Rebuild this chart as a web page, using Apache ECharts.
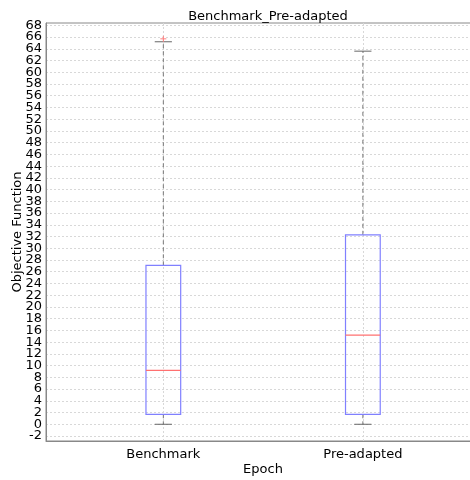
<!DOCTYPE html>
<html>
<head>
<meta charset="utf-8">
<script src="https://cdn.jsdelivr.net/npm/echarts@6/dist/echarts.min.js"></script>
<style>
  html, body { margin: 0; padding: 0; background: #fff; }
  #chart { width: 470px; height: 480px; }
</style>
</head>
<body>
<div id="chart"></div>
<script>
// Box plot summary per epoch
const categories = ['Benchmark', 'Pre-adapted'];
const whiskerLow = [0.0, 0.0];
const q1 = [1.7, 1.7];
const median = [9.2, 15.2];
const q3 = [27.1, 32.3];
const whiskerHigh = [65.2, 63.6];
const outliers = [[65.7], []];
const yTicks = [-2, 0, 2, 4, 6, 8, 10, 12, 14, 16, 18, 20, 22, 24, 26, 28, 30, 32, 34,
  36, 38, 40, 42, 44, 46, 48, 50, 52, 54, 56, 58, 60, 62, 64, 66, 68];
const yMin = -2.85;
const yMax = 68.4;

const FONT = 'DejaVu Sans';
const positions = categories.map((_, i) => i + 1);
const boxData = positions.map((p, i) => [p, whiskerLow[i], q1[i], median[i], q3[i], whiskerHigh[i]]);
const outlierData = [];
outliers.forEach((list, i) => list.forEach(v => outlierData.push([positions[i], v])));
// blank end labels so that the min/max label handling leaves the real ticks alone
const yLabelValues = [yMin].concat(yTicks, [yMax]);

const BOX_HALF = 0.087;
const CAP_HALF = 0.043;

function renderBox(params, api) {
  const x = api.value(0);
  const pt = (xv, yv) => api.coord([xv, yv]);
  const lo = pt(x, api.value(1)), b1 = pt(x, api.value(2)), md = api.value(3);
  const b3 = pt(x, api.value(4)), hi = pt(x, api.value(5));
  const left = pt(x - BOX_HALF, api.value(2))[0], right = pt(x + BOX_HALF, api.value(2))[0];
  const capL = pt(x - CAP_HALF, 0)[0], capR = pt(x + CAP_HALF, 0)[0];
  const mdY = pt(x, md)[1];
  const whiskerStyle = { stroke: '#777777', lineWidth: 1, lineDash: [4, 3] };
  const capStyle = { stroke: '#666666', lineWidth: 1 };
  return {
    type: 'group',
    children: [
      { type: 'line', shape: { x1: hi[0], y1: b3[1], x2: hi[0], y2: hi[1] }, style: whiskerStyle },
      { type: 'line', shape: { x1: lo[0], y1: b1[1], x2: lo[0], y2: lo[1] }, style: whiskerStyle },
      { type: 'line', shape: { x1: capL, y1: hi[1], x2: capR, y2: hi[1] }, style: capStyle },
      { type: 'line', shape: { x1: capL, y1: lo[1], x2: capR, y2: lo[1] }, style: capStyle },
      { type: 'rect', shape: { x: left, y: b3[1], width: right - left, height: b1[1] - b3[1] },
        style: { fill: 'none', stroke: '#8080ff', lineWidth: 1.2 } },
      { type: 'line', shape: { x1: left, y1: mdY, x2: right, y2: mdY },
        style: { stroke: '#ff7070', lineWidth: 1.2 } }
    ]
  };
}

function renderOutlier(params, api) {
  const c = api.coord([api.value(0), api.value(1)]);
  const s = 3;
  const st = { stroke: '#ff8080', lineWidth: 1 };
  return {
    type: 'group',
    children: [
      { type: 'line', shape: { x1: c[0] - s, y1: c[1], x2: c[0] + s, y2: c[1] }, style: st },
      { type: 'line', shape: { x1: c[0], y1: c[1] - s, x2: c[0], y2: c[1] + s }, style: st }
    ]
  };
}

const chart = echarts.init(document.getElementById('chart'), null, { renderer: 'canvas' });
chart.setOption({
  animation: false,
  backgroundColor: '#ffffff',
  title: {
    text: 'Benchmark_Pre-adapted',
    left: 263, top: 5, textAlign: 'center',
    textStyle: { fontFamily: FONT, fontSize: 13, fontWeight: 'normal', color: '#000' }
  },
  grid: {
    left: 46, top: 23, width: 434, height: 418,
    containLabel: false, outerBoundsMode: 'none',
    show: true, borderColor: '#888', borderWidth: 1
  },
  xAxis: {
    type: 'value', min: 0.412, max: 2.587,
    name: 'Epoch', nameLocation: 'middle', nameGap: 22, nameMoveOverlap: false,
    nameTextStyle: { fontFamily: FONT, fontSize: 13, color: '#000' },
    axisLine: { show: true, onZero: false, lineStyle: { color: '#888' } },
    axisTick: { show: false, customValues: positions },
    axisLabel: {
      customValues: positions, margin: 7,
      fontFamily: FONT, fontSize: 13, color: '#000',
      formatter: v => categories[Math.round(v) - 1] || ''
    },
    splitLine: { show: true, lineStyle: { color: '#d8d8d8', type: [2, 2] } }
  },
  yAxis: {
    type: 'value', min: yMin, max: yMax,
    name: 'Objective Function', nameLocation: 'middle', nameGap: 22, nameMoveOverlap: false,
    nameTextStyle: { fontFamily: FONT, fontSize: 13, color: '#000' },
    axisLine: { show: true, onZero: false, lineStyle: { color: '#888' } },
    axisTick: { show: false, customValues: yTicks },
    axisLabel: {
      customValues: yLabelValues, margin: 4, hideOverlap: false,
      showMinLabel: false, showMaxLabel: false,
      fontFamily: FONT, fontSize: 13, color: '#000',
      formatter: v => (yTicks.indexOf(v) >= 0 ? String(v) : '')
    },
    splitLine: { show: true, lineStyle: { color: '#d8d8d8', type: [2, 2] } }
  },
  series: [
    { type: 'custom', renderItem: renderBox, data: boxData, encode: { x: 0, y: [1, 2, 3, 4, 5] }, z: 3 },
    { type: 'custom', renderItem: renderOutlier, data: outlierData, encode: { x: 0, y: 1 }, z: 4 }
  ]
});
</script>
</body>
</html>
